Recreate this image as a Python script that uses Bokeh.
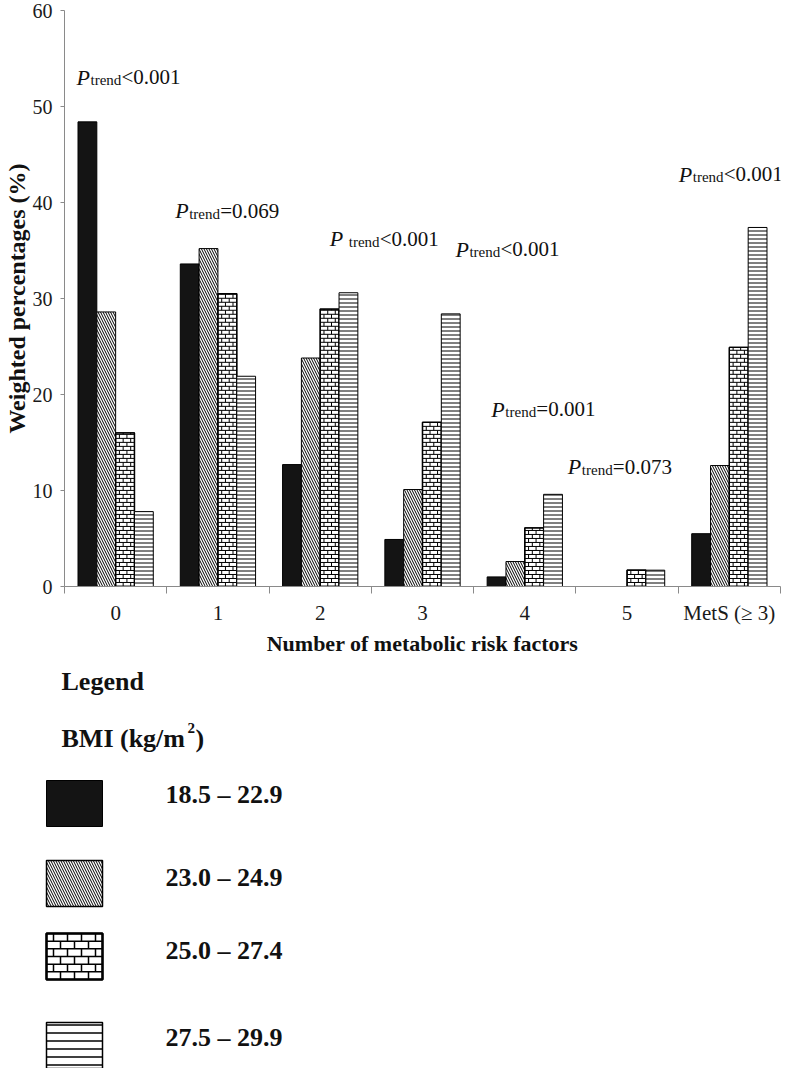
from bokeh.plotting import figure
from bokeh.models import Range1d, FixedTicker
from bokeh.layouts import column
from bokeh.embed import file_html
from bokeh.resources import INLINE
from bokeh.core.properties import value

# ---------------- data ----------------
categories = ["0", "1", "2", "3", "4", "5", "MetS (\u2265 3)"]
bmi_groups = ["18.5 \u2013 22.9", "23.0 \u2013 24.9", "25.0 \u2013 27.4", "27.5 \u2013 29.9"]
bmi_18_5_22_9 = [48.4, 33.6, 12.7, 4.9, 1.0, 0.0, 5.5]
bmi_23_0_24_9 = [28.6, 35.2, 23.8, 10.1, 2.6, 0.0, 12.6]
bmi_25_0_27_4 = [16.0, 30.5, 28.9, 17.1, 6.1, 1.7, 24.9]
bmi_27_5_29_9 = [7.8, 21.9, 30.6, 28.4, 9.6, 1.7, 37.4]
p_trend = ["<0.001", "=0.069", "<0.001", "<0.001", "=0.001", "=0.073", "<0.001"]
y_ticks = [0, 10, 20, 30, 40, 50, 60]

# annotation anchors (x in category units, y in %)
ann_x = [0.117, 1.082, 2.593, 3.822, 4.173, 4.921, 6.005]
ann_y = [53.05, 39.15, 36.25, 35.15, 18.45, 12.45, 42.95]
ann_gap = [14, 14, 19, 14, 14, 14, 14]

FONT = value("Liberation Serif")
AXIS_GRAY = "#8a8a8a"


def brick_segments(left, right, lo, hi, row_h, brick_w):
    """Running-bond brick texture inside a rectangle (lo -> hi along y)."""
    x0, y0, x1, y1 = [], [], [], []
    sign = 1 if hi >= lo else -1
    span = abs(hi - lo)
    r = 0
    while r * row_h < span - 1e-9:
        ya = lo + sign * r * row_h
        yb = lo + sign * min((r + 1) * row_h, span)
        if r > 0:
            x0.append(left); x1.append(right); y0.append(ya); y1.append(ya)
        shift = 0.5 * brick_w if r % 2 else 0.0
        xj = left + shift + (brick_w if shift == 0 else 0)
        while xj < right - 1e-9:
            if xj > left + 1e-9:
                x0.append(xj); x1.append(xj); y0.append(ya); y1.append(yb)
            xj += brick_w
        r += 1
    return x0, y0, x1, y1


series = [bmi_18_5_22_9, bmi_23_0_24_9, bmi_25_0_27_4, bmi_27_5_29_9]
styles = [
    dict(fill_color="#141414", line_color="#000000", line_width=1),
    dict(fill_color="white", line_color="#000000", line_width=1,
         hatch_pattern="\\", hatch_color="#000000", hatch_scale=5, hatch_weight=1),
    dict(fill_color="white", line_color="#000000", line_width=1.3),
    dict(fill_color="white", line_color="#000000", line_width=1,
         hatch_pattern="-", hatch_color="#000000", hatch_scale=4, hatch_weight=1),
]
BRICK_SERIES = 2

W, H1, H2 = 787, 668, 400
n = len(categories)
centers = [i + 0.5 for i in range(n)]
bounds = [float(i) for i in range(n + 1)]
bar_w = 0.184

p = figure(width=W, height=H1, x_range=Range1d(0, n), y_range=Range1d(0, 60),
           toolbar_location=None, output_backend="svg",
           min_border_left=62, min_border_right=7, min_border_top=10,
           min_border_bottom=H1 - 586)
p.frame_align = False
p.background_fill_color = "white"
p.border_fill_color = "white"
p.outline_line_color = None
p.xgrid.grid_line_color = None
p.ygrid.grid_line_color = None

for k, (vals, st) in enumerate(zip(series, styles)):
    xs = [c + (k - 1.5) * bar_w for c, v in zip(centers, vals) if v > 0]
    tops = [v for v in vals if v > 0]
    p.vbar(x=xs, top=tops, bottom=0, width=bar_w, **st)
    if k == BRICK_SERIES:
        bx0, by0, bx1, by1 = [], [], [], []
        for x, t in zip(xs, tops):
            a, b, c, d = brick_segments(x - bar_w / 2, x + bar_w / 2, 0, t,
                                        row_h=0.417, brick_w=bar_w * 0.4)
            bx0 += a; by0 += b; bx1 += c; by1 += d
        p.segment(x0=bx0, y0=by0, x1=bx1, y1=by1, line_color="#000000", line_width=1)
        p.vbar(x=xs, top=tops, bottom=0, width=bar_w, fill_color=None,
               line_color="#000000", line_width=1.3)

# annotations: italic P, subscript "trend", then the value
p.text(x=ann_x, y=ann_y, text=["P"] * n, text_font=FONT, text_font_style="italic",
       text_font_size="22px", text_baseline="alphabetic", text_align="left",
       text_color="#111111")
p.text(x=ann_x, y=ann_y, text=["trend"] * n, x_offset=ann_gap, y_offset=3,
       text_font=FONT, text_font_size="15px", text_baseline="alphabetic",
       text_align="left", text_color="#111111")
p.text(x=ann_x, y=ann_y, text=p_trend, x_offset=[g + 31 for g in ann_gap],
       text_font=FONT, text_font_size="21px", text_baseline="alphabetic",
       text_align="left", text_color="#111111")

# y axis
ya = p.yaxis[0]
ya.ticker = FixedTicker(ticks=y_ticks)
ya.axis_line_color = AXIS_GRAY
ya.major_tick_line_color = AXIS_GRAY
ya.major_tick_out = 4
ya.major_tick_in = 0
ya.minor_tick_line_color = None
ya.major_label_standoff = 8
ya.major_label_text_font = "Liberation Serif"
ya.major_label_text_font_size = "20px"
ya.major_label_text_color = "#1a1a1a"
ya.axis_label = "Weighted percentages (%)"
ya.axis_label_text_font = "Liberation Serif"
ya.axis_label_text_font_style = "bold"
ya.axis_label_text_font_size = "24px"
ya.axis_label_text_color = "#111111"
ya.axis_label_standoff = 0

# x axis
xa = p.xaxis[0]
xa.ticker = FixedTicker(ticks=centers, minor_ticks=bounds)
xa.major_label_overrides = {c: lab for c, lab in zip(centers, categories)}
xa.axis_line_color = AXIS_GRAY
xa.major_tick_line_color = None
xa.major_tick_out = 0
xa.major_tick_in = 0
xa.minor_tick_line_color = AXIS_GRAY
xa.minor_tick_out = 7
xa.minor_tick_in = 0
xa.major_label_standoff = 7
xa.major_label_text_font = "Liberation Serif"
xa.major_label_text_font_size = "21px"
xa.major_label_text_color = "#1a1a1a"
xa.axis_label = "Number of metabolic risk factors"
xa.axis_label_text_font = "Liberation Serif"
xa.axis_label_text_font_style = "bold"
xa.axis_label_text_font_size = "22px"
xa.axis_label_text_color = "#111111"
xa.axis_label_standoff = 3

# ---------------- legend panel (pixel-like coordinates) ----------------
q = figure(width=W, height=H2, x_range=Range1d(0, W), y_range=Range1d(H2, 0),
           toolbar_location=None, output_backend="svg",
           min_border_left=0, min_border_right=0, min_border_top=0, min_border_bottom=0,
           x_axis_location=None, y_axis_location=None)
q.frame_align = False
q.xgrid.grid_line_color = None
q.ygrid.grid_line_color = None
q.outline_line_color = None
q.background_fill_color = "white"
q.border_fill_color = "white"

swatch_top = [112, 192, 265, 354]
swatch_h = 46
sw_left, sw_right = 46, 102
swatch_styles = [
    dict(fill_color="#141414", line_color="#000000", line_width=1),
    dict(fill_color="white", line_color="#000000", line_width=1.5,
         hatch_pattern="\\", hatch_color="#000000", hatch_scale=5, hatch_weight=1),
    dict(fill_color="white", line_color="#000000", line_width=1.5),
    dict(fill_color="white", line_color="#000000", line_width=1.5,
         hatch_pattern="-", hatch_color="#000000", hatch_scale=8, hatch_weight=1.5),
]
for k, (t, st) in enumerate(zip(swatch_top, swatch_styles)):
    q.quad(left=[sw_left], right=[sw_right], top=[t], bottom=[t + swatch_h], **st)
    if k == BRICK_SERIES:
        a, b, c, d = brick_segments(sw_left, sw_right, t + swatch_h, t, row_h=7.67, brick_w=14)
        q.segment(x0=a, y0=b, x1=c, y1=d, line_color="#000000", line_width=1.5)
        q.quad(left=[sw_left], right=[sw_right], top=[t], bottom=[t + swatch_h],
               fill_color=None, line_color="#000000", line_width=2.5)

q.text(x=[61], y=[13], text=["Legend"], text_font=FONT, text_font_style="bold",
       text_font_size="26px", text_baseline="alphabetic", text_color="#111111")
q.text(x=[61], y=[70], text=["BMI (kg/m"], text_font=FONT, text_font_style="bold",
       text_font_size="26px", text_baseline="alphabetic", text_color="#111111")
q.text(x=[61], y=[70], text=["2"], x_offset=126, y_offset=-11, text_font=FONT,
       text_font_style="bold", text_font_size="15px", text_baseline="alphabetic",
       text_color="#111111")
q.text(x=[61], y=[70], text=[")"], x_offset=134, text_font=FONT, text_font_style="bold",
       text_font_size="26px", text_baseline="alphabetic", text_color="#111111")
q.text(x=[165] * 4, y=[126, 209, 282, 369], text=bmi_groups, text_font=FONT,
       text_font_style="bold", text_font_size="26px", text_baseline="alphabetic",
       text_color="#111111")

layout = column(p, q, spacing=0)
open("out.html", "w").write(file_html(layout, INLINE))
